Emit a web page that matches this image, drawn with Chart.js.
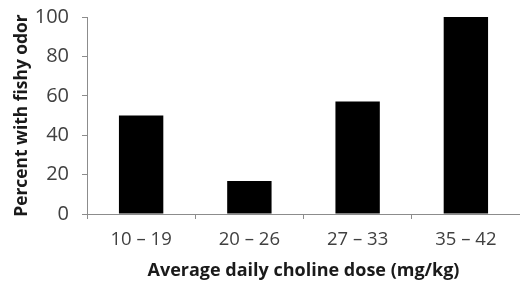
<!DOCTYPE html>
<html>
<head>
<meta charset="utf-8">
<script src="https://cdn.jsdelivr.net/npm/chart.js@4"></script>
<style>
  html, body { margin: 0; padding: 0; background: #fff; }
  #wrap { width: 520px; height: 285px; }
</style>
</head>
<body>
<div id="wrap"><canvas id="chart" width="520" height="285"></canvas></div>
<script>
// Data
const doseGroups = ["10 \u2013 19", "20 \u2013 26", "27 \u2013 33", "35 \u2013 42"];
const percentFishy = [50, 16.7, 57.1, 100];
const yTicks = [0, 20, 40, 60, 80, 100];

const axisColor = "#8c8c8c";
const textColor = "#404040";
const fontFamily = "'Open Sans', Lato, sans-serif";

new Chart(document.getElementById("chart").getContext("2d"), {
  type: "bar",
  data: {
    labels: doseGroups,
    datasets: [{
      data: percentFishy,
      backgroundColor: "#000",
      borderColor: "#000",
      borderWidth: 0,
      categoryPercentage: 1,
      barPercentage: 0.41
    }]
  },
  options: {
    responsive: false,
    animation: false,
    layout: { padding: { top: 17, right: 0, left: 0, bottom: 0 } },
    plugins: { legend: { display: false }, tooltip: { enabled: false } },
    scales: {
      x: {
        afterFit: s => { s.height = 71; s.paddingRight = 0; },
        grid: {
          offset: true,
          drawOnChartArea: false,
          drawTicks: true,
          tickLength: 5,
          color: axisColor
        },
        border: { color: axisColor, width: 1 },
        ticks: { color: textColor, padding: 10, font: { family: fontFamily, size: 18.5 } },
        title: {
          display: true,
          text: "Average daily choline dose (mg/kg)",
          color: "#1a1a1a",
          padding: { top: 0, bottom: 3 },
          font: { family: fontFamily, size: 18, weight: "bold" }
        }
      },
      y: {
        min: 0,
        max: 100,
        afterFit: s => { s.width = 87; s.paddingTop = 0; s.paddingBottom = 0; },
        afterBuildTicks: s => { s.ticks = yTicks.map(v => ({ value: v })); },
        grid: {
          drawOnChartArea: false,
          drawTicks: true,
          tickLength: 5,
          color: axisColor
        },
        border: { color: axisColor, width: 1 },
        ticks: { color: textColor, padding: 13, font: { family: fontFamily, size: 20 } },
        title: {
          display: true,
          text: "Percent with fishy odor",
          color: "#1a1a1a",
          padding: { top: 12, bottom: 0 },
          font: { family: fontFamily, size: 17.4, weight: "bold" }
        }
      }
    }
  }
});
</script>
</body>
</html>
